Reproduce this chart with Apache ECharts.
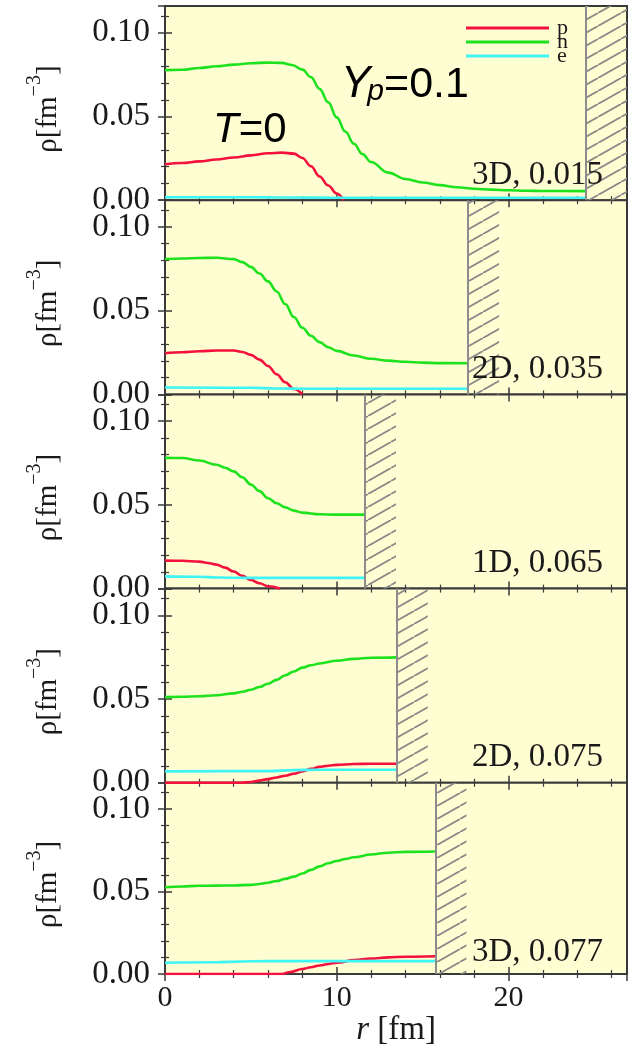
<!DOCTYPE html>
<html><head><meta charset="utf-8">
<script src="https://cdn.jsdelivr.net/npm/echarts@6/dist/echarts.min.js"></script>
<style>html,body{margin:0;padding:0;background:#fff}#c{width:635px;height:1048px}</style>
</head><body><div id="c"></div>
<script>
// ---- data ----
const panelLabels = ['3D, 0.015', '2D, 0.035', '1D, 0.065', '2D, 0.075', '3D, 0.077'];
const cellEdge = [24.5, 17.65, 11.65, 13.5, 15.75];
const hatchEnd = [26.9, 19.45, 13.45, 15.3, 17.55];
const xTickLabels = [0, 10, 20];
const yTickLabels = [0, 0.05, 0.10];
const seriesNames = ['p', 'n', 'e'];

const p1 = [[0,0.0215],[1,0.0222],[2,0.0232],[3,0.0243],[4,0.0255],[5,0.0268],[6,0.0280],[6.8,0.0284],[7.5,0.0278],[8,0.0252],[8.5,0.0203],[9,0.0142],[9.5,0.0088],[10,0.0040],[10.4,0.0]];
const n1 = [[0,0.0777],[1,0.0779],[2,0.0790],[3,0.0800],[4,0.0810],[5,0.0818],[6,0.0822],[6.8,0.0820],[7.4,0.0808],[8,0.0780],[8.5,0.0735],[9,0.0665],[9.5,0.0585],[10,0.0495],[10.5,0.0410],[11,0.0337],[11.5,0.0275],[12,0.0228],[13,0.0165],[14,0.0127],[15,0.0106],[16,0.0090],[17,0.0077],[18,0.0068],[19,0.0063],[20,0.0059],[21,0.0056],[22,0.0055],[24.5,0.0054]];
const e1 = [[0,0.0018],[5,0.0018],[7,0.0016],[10,0.0015],[24.5,0.0015]];

const p2 = [[0,0.0246],[1,0.0252],[2,0.0258],[3,0.0262],[4,0.0262],[4.5,0.0253],[5,0.0236],[5.5,0.0208],[6,0.0170],[6.5,0.0120],[7,0.0073],[7.5,0.0032],[8,0]];
const n2 = [[0,0.0809],[1,0.0812],[2,0.0815],[3,0.0816],[4,0.0808],[4.5,0.0790],[5,0.0762],[5.5,0.0722],[6,0.0675],[6.5,0.0615],[7,0.0540],[7.5,0.0462],[8,0.0398],[8.5,0.0350],[9,0.0312],[9.5,0.0282],[10,0.0260],[11,0.0232],[12,0.0213],[13,0.0202],[14,0.0195],[15,0.0190],[16,0.0187],[17.65,0.0186]];
const e2 = [[0,0.0041],[5,0.0040],[6.5,0.0035],[8,0.0034],[17.65,0.0034]];

const p3 = [[0,0.0167],[1,0.0166],[2,0.0161],[2.5,0.0153],[3,0.0143],[3.5,0.0125],[4,0.0102],[4.5,0.0076],[5,0.0052],[5.5,0.0032],[6,0.0014],[6.7,0]];
const n3 = [[0,0.0781],[1,0.0780],[2,0.0765],[3,0.0740],[3.5,0.0722],[4,0.0700],[4.5,0.0665],[5,0.0622],[5.5,0.0582],[6,0.0540],[6.5,0.0510],[7,0.0485],[7.5,0.0466],[8,0.0454],[9,0.0444],[10,0.0442],[11.65,0.0442]];
const e3 = [[0,0.0073],[2,0.0071],[3,0.0066],[5,0.0064],[11.65,0.0064]];

const p4 = [[0,0],[4.4,0],[5,0.0005],[5.5,0.0013],[6,0.0022],[6.5,0.0032],[7,0.0042],[7.5,0.0054],[8,0.0068],[8.5,0.0083],[9,0.0095],[9.5,0.0102],[10,0.0107],[11,0.0112],[12,0.0114],[13.5,0.0114]];
const n4 = [[0,0.0512],[1,0.0514],[2,0.0517],[3,0.0523],[4,0.0534],[4.5,0.0544],[5,0.0556],[5.5,0.0572],[6,0.0592],[6.5,0.0615],[7,0.0642],[7.5,0.0665],[8,0.0688],[8.5,0.0702],[9,0.0713],[10,0.0729],[11,0.0740],[12,0.0747],[13.5,0.0749]];
const e4 = [[0,0.0068],[6,0.0070],[7.5,0.0076],[9,0.0078],[13.5,0.0078]];

const p5 = [[0,0],[6.8,0],[7.3,0.0012],[8,0.0030],[8.5,0.0041],[9,0.0052],[9.5,0.0061],[10,0.0069],[11,0.0084],[12,0.0094],[13,0.0101],[14,0.0105],[15.75,0.0108]];
const n5 = [[0,0.0526],[1,0.0531],[2,0.0535],[3,0.0536],[4,0.0537],[5,0.0541],[5.5,0.0546],[6,0.0554],[6.5,0.0564],[7,0.0577],[7.5,0.0591],[8,0.0610],[8.5,0.0632],[9,0.0653],[9.5,0.0672],[10,0.0686],[10.5,0.0698],[11,0.0708],[12,0.0725],[13,0.0736],[14,0.0741],[15.75,0.0743]];
const e5 = [[0,0.0068],[3,0.0071],[4.5,0.0076],[6,0.0078],[15.75,0.0078]];

const panels = [[p1,n1,e1],[p2,n2,e2],[p3,n3,e3],[p4,n4,e4],[p5,n5,e5]];

// ---- style ----
const X_MAX = 26.9, Y_MAX = 0.116;
const colors = ['#f3123e', '#1fe21f', '#3ff4f4'];
const BG = '#fffdd2';
const AX = '#3a3a3a';
const TXT = '#1a1a1a';
const SERIF = '"Liberation Serif","Times New Roman",serif';
const SANS = '"Liberation Sans",Arial,sans-serif';
const LEFT = 165, WIDTH = 462, TOP0 = 6, PH = 194.2;

function hatchPattern() {
  const w = 23, h = 13;
  const c = document.createElement('canvas');
  c.width = w; c.height = h;
  const g = c.getContext('2d');
  g.strokeStyle = '#888888'; g.lineWidth = 1.8;
  for (let k = -1; k <= 1; k++) {
    g.beginPath(); g.moveTo(k * w, h); g.lineTo((k + 1) * w, 0); g.stroke();
  }
  return c;
}
const hatch = { image: hatchPattern(), repeat: 'repeat' };

const fmtX = v => xTickLabels.some(t => Math.abs(t - v) < 1e-6) ? String(v) : '';
const fmtY = v => yTickLabels.some(t => Math.abs(t - v) < 1e-6) ? v.toFixed(2) : '';

const grid = [], xAxis = [], yAxis = [], series = [], graphic = [];
panels.forEach((pd, i) => {
  grid.push({ left: LEFT, width: WIDTH, top: TOP0 + i * PH, height: PH, show: true,
    backgroundColor: BG, borderColor: AX, borderWidth: 2 });
  const tickCommon = { show: true, inside: true, length: 7, lineStyle: { color: AX, width: 1.5 } };
  const minorCommon = { show: true, splitNumber: 5, length: 4, lineStyle: { color: AX, width: 1.2 } };
  ['bottom', 'top'].forEach((pos, j) => {
    xAxis.push({ type: 'value', gridIndex: i, position: pos, min: 0, max: X_MAX, interval: 10,
      axisLine: { show: false }, splitLine: { show: false },
      axisTick: tickCommon, minorTick: Object.assign({}, minorCommon),
      axisLabel: { show: (i === 4 && j === 0), formatter: fmtX, margin: 9,
        fontFamily: SERIF, fontSize: 30, color: TXT },
      name: (i === 4 && j === 0) ? '{i|r}{n| [fm]}' : '', nameLocation: 'middle', nameGap: 40,
      nameTextStyle: { rich: {
        i: { fontFamily: SERIF, fontSize: 33, fontStyle: 'italic', color: TXT },
        n: { fontFamily: SERIF, fontSize: 33, color: TXT } } }
    });
  });
  ['left', 'right'].forEach((pos, j) => {
    yAxis.push({ type: 'value', gridIndex: i, position: pos, min: 0, max: Y_MAX, interval: 0.05,
      axisLine: { show: false }, splitLine: { show: false },
      axisTick: tickCommon, minorTick: Object.assign({}, minorCommon),
      axisLabel: { show: j === 0, formatter: fmtY, margin: 15, fontFamily: SERIF, fontSize: 33,
        color: TXT, padding: [5, 0, 0, 0] },
      name: j === 0 ? '{a|ρ[fm}{b|−3}{a|]}' : '', nameLocation: 'middle', nameRotate: 90, nameGap: 111,
      nameTextStyle: { padding: [0, 12, 0, 0], rich: {
        a: { fontFamily: SERIF, fontSize: 29, lineHeight: 29, padding: [17, 0, 0, 0], color: TXT },
        b: { fontFamily: SERIF, fontSize: 20, lineHeight: 20, verticalAlign: 'top', color: TXT } } }
    });
  });
  pd.forEach((d, k) => {
    const s = { type: 'line', name: seriesNames[k], xAxisIndex: i * 2, yAxisIndex: i * 2,
      data: d, showSymbol: false, smooth: 0.4, smoothMonotone: 'x', silent: true,
      lineStyle: { color: colors[k], width: 2.6 }, itemStyle: { color: colors[k] }, z: 3 };
    if (k === 1) {
      s.markArea = { silent: true, itemStyle: { color: hatch, opacity: 1 },
        data: [[{ xAxis: cellEdge[i] }, { xAxis: hatchEnd[i] }]] };
      s.markLine = { silent: true, symbol: 'none', label: { show: false },
        lineStyle: { color: '#8c8c8c', width: 2, type: 'solid' },
        data: [{ xAxis: cellEdge[i] }] };
    }
    series.push(s);
  });
  const bottom = TOP0 + (i + 1) * PH;
  graphic.push({ type: 'text', x: 603, y: bottom - 25, z: 10,
    style: { text: panelLabels[i], font: '33px ' + SERIF, fill: TXT, align: 'right', verticalAlign: 'middle' } });
});

graphic.push({ type: 'text', x: 213, y: 130, z: 10,
  style: { text: '{i|T}{n|=0}', align: 'left', verticalAlign: 'middle',
    rich: { i: { font: 'italic 42px ' + SANS, fill: '#000' }, n: { font: '42px ' + SANS, fill: '#000' } } } });
graphic.push({ type: 'text', x: 341, y: 85, z: 10,
  style: { text: '{Y|Y}{p|p}{n|=0.1}', align: 'left', verticalAlign: 'middle',
    rich: { Y: { font: 'italic 44px ' + SANS, fill: '#000', lineHeight: 44 },
      p: { font: 'italic 30px ' + SANS, fill: '#000', lineHeight: 30, verticalAlign: 'bottom', padding: [0,0,0,-3] },
      n: { font: '43px ' + SANS, fill: '#000', lineHeight: 44 } } } });

const chart = echarts.init(document.getElementById('c'), null, { renderer: 'canvas' });
chart.setOption({
  animation: false,
  backgroundColor: '#ffffff',
  grid, xAxis, yAxis, series, graphic,
  legend: { data: seriesNames, orient: 'vertical', left: 466, top: 17, padding: 0, itemWidth: 83, itemHeight: 3,
    itemGap: -8, icon: 'rect', selectedMode: false,
    textStyle: { fontFamily: SERIF, fontSize: 22, color: TXT, padding: [0,0,0,3] } }
});
</script></body></html>
